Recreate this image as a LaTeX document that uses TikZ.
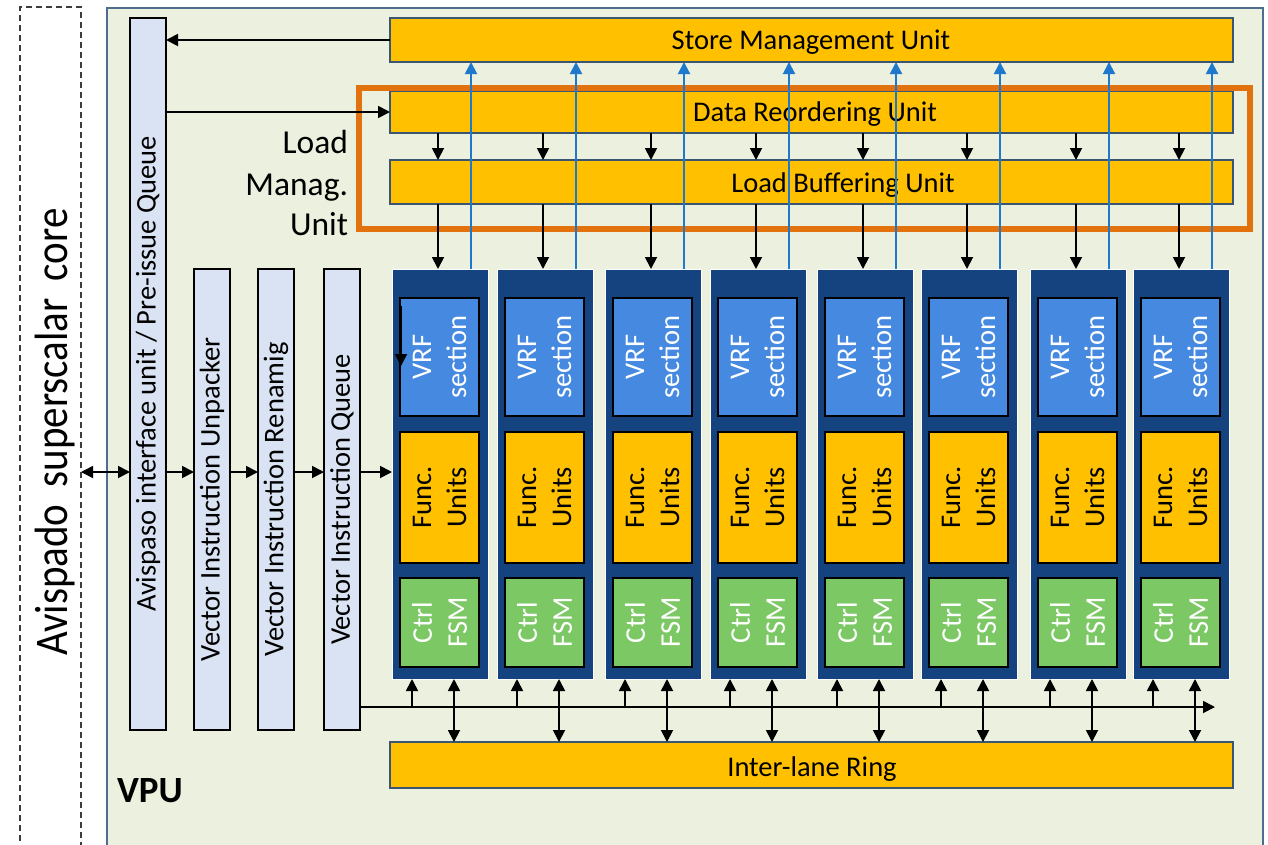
\documentclass[tikz,border=0pt]{standalone}
\usepackage{graphicx}
\usepackage{fontspec}
\setmainfont{Carlito}
\usetikzlibrary{arrows.meta,fit}

\definecolor{vpubg}{HTML}{EBF1DE}
\definecolor{vpuedge}{HTML}{4F6E8F}
\definecolor{colfill}{HTML}{DAE3F3}
\definecolor{gold}{HTML}{FFC000}
\definecolor{baredge}{HTML}{3A5674}
\definecolor{laneblue}{HTML}{15437F}
\definecolor{vrfblue}{HTML}{4689E0}
\definecolor{fsmgreen}{HTML}{7CC864}
\definecolor{lmuorange}{HTML}{E2720E}
\definecolor{wireblue}{HTML}{1E78CC}
\definecolor{coreedge}{HTML}{3C3C3C}

\begin{document}
\begin{tikzpicture}[x=1pt,y=-1pt,
  every node/.style={outer sep=0pt},
  corebox/.style={draw=coreedge, line width=1.5pt, dash pattern=on 6pt off 4pt, fill=white, inner sep=0pt},
  vpubox/.style={draw=vpuedge, line width=1.2pt, fill=vpubg, inner sep=0pt},
  column/.style={draw=black, line width=1.8pt, fill=colfill, inner sep=0pt},
  bar/.style={draw=baredge, line width=1.2pt, fill=gold, inner sep=0pt},
  lanebox/.style={draw=white, line width=1pt, fill=laneblue, inner sep=0pt},
  vrfbox/.style={draw=black, line width=1.6pt, fill=vrfblue, inner sep=0pt},
  fubox/.style={draw=black, line width=1.6pt, fill=gold, inner sep=0pt},
  fsmbox/.style={draw=black, line width=1.6pt, fill=fsmgreen, inner sep=0pt},
  lmuframe/.style={draw=lmuorange, line width=6pt, inner sep=0pt},
  txt/.style={inner sep=0pt, font=\fontsize{28.5}{35}\selectfont, align=center},
  lmutxt/.style={inner sep=0pt, font=\fontsize{33.5}{41}\selectfont, anchor=base east},
  arr/.style={line width=1.8pt, -{Triangle[length=12pt,width=12pt]}},
  darr/.style={line width=1.8pt, {Triangle[length=12pt,width=12pt]}-{Triangle[length=12pt,width=12pt]}},
  barr/.style={draw=wireblue, line width=2pt, -{Triangle[length=12pt,width=12pt]}},
]
\useasboundingbox (0,0) rectangle (1268,844);
\clip (-1,-1) rectangle (1269,845);

% host core and vector unit frames
\node[corebox, anchor=north west, minimum width=61pt, minimum height=850pt] (core) at (20,7) {};
\node[rotate=90, anchor=base, inner sep=0pt, font=\fontsize{41}{48}\selectfont] (coretxt) at (67,432)
  {\scalebox{1}[1.14]{Avispado\hspace{0.42em}superscalar\hspace{0.42em}core}};
\node[vpubox, fit={(107,8) (1263,870)}] (vpu) {};
\node[anchor=base west, inner sep=0pt, font=\fontsize{37}{40}\selectfont\bfseries] (vpulbl) at (117,802) {VPU};

% front-end pipeline columns
\node[column, fit={(130,18) (166,730)}] (avq) {};
\node[txt, rotate=90] (avqt) at (avq.center) {Avispaso interface unit / Pre-issue Queue};
\node[column, fit={(194,269) (230,730)}] (unp) {};
\node[txt, rotate=90] (unpt) at (unp.center) {Vector Instruction Unpacker};
\node[column, fit={(258,269) (294,730)}] (ren) {};
\node[txt, rotate=90] (rent) at (ren.center) {Vector Instruction Renamig};
\node[column, fit={(324,269) (360,730)}] (vq) {};
\node[txt, rotate=90] (vqt) at (vq.center) {Vector Instruction Queue};

% memory-side units and the inter-lane ring
\node[bar, fit={(390,18) (1233,62)}] (smu) {};
\node[bar, fit={(390,91) (1233,133)}] (dru) {};
\node[bar, fit={(390,160) (1233,204)}] (lbu) {};
\node[bar, fit={(390,742) (1233,788)}] (ring) {};
\node[txt, anchor=base] (smut) at (811,49) {Store Management Unit};
\node[txt, anchor=base] (drut) at (815,121) {Data Reordering Unit};
\node[txt, anchor=base] (lbut) at (843,192) {Load Buffering Unit};
\node[txt, anchor=base] (ringt) at (812,776) {Inter-lane Ring};

% load management grouping
\node[lmuframe, fit={(359,88) (1250,229)}] (lmu) {};
\node[lmutxt] (lmu1) at (348,153) {Load};
\node[lmutxt] (lmu2) at (348,195) {Manag.};
\node[lmutxt] (lmu3) at (348,235) {Unit};

% vector lanes
\foreach \i/\x in {1/392,2/497,3/605,4/710,5/817,6/921,7/1030,8/1133}{
  \node[lanebox, fit={(\x,269) (\x+96,679)}] (lane\i) {};
  \node[vrfbox, fit={(\x+8,298) (\x+87,416)}] (vrf\i) {};
  \node[txt, rotate=90, text=white] (vrft\i) at (vrf\i.center) {VRF\\section};
  \node[fubox, fit={(\x+8,432) (\x+87,563)}] (fu\i) {};
  \node[txt, rotate=90] (fut\i) at (fu\i.center) {Func.\\Units};
  \node[fsmbox, fit={(\x+8,578) (\x+87,667)}] (fsm\i) {};
  \node[txt, rotate=90, text=white] (fsmt\i) at (fsm\i.center) {Ctrl\\FSM};
}

% instruction flow
\coordinate (row) at (0,472);
\coordinate (bus) at (0,707);
\coordinate (busend) at (1215,707);
\draw[darr] (core.east |- row) -- (avq.west |- row);
\draw[arr] (avq.east |- row) -- (unp.west |- row);
\draw[arr] (unp.east |- row) -- (ren.west |- row);
\draw[arr] (ren.east |- row) -- (vq.west |- row);
\draw[arr] (vq.east |- row) -- (lane1.west |- row);
\draw[arr] (smu.west) -- (avq.east |- smu.west);
\draw[arr] (avq.east |- dru.west) -- (dru.west);
\draw[arr] (vq.east |- bus) -- (busend);

% arrow inside the first VRF section
\coordinate (vrfin) at (401,306);
\coordinate (vrfout) at (401,366);
\draw[arr] (vrfin) -- (vrfout);

% per-lane connections
\foreach \i/\x in {1/392,2/497,3/605,4/710,5/817,6/921,7/1030,8/1133}{
  \coordinate (cx\i) at (\x+46,0);
  \coordinate (bx\i) at (\x+79,0);
  \coordinate (ux\i) at (\x+20,0);
  \coordinate (dx\i) at (\x+62,0);
  \draw[arr] (dru.south -| cx\i) -- (lbu.north -| cx\i);
  \draw[arr] (lbu.south -| cx\i) -- (lane\i.north -| cx\i);
  \draw[barr] (lane\i.north -| bx\i) -- (smu.south -| bx\i);
  \draw[arr] (bus -| ux\i) -- (lane\i.south -| ux\i);
  \draw[darr] (lane\i.south -| dx\i) -- (ring.north -| dx\i);
}
\end{tikzpicture}
\end{document}
